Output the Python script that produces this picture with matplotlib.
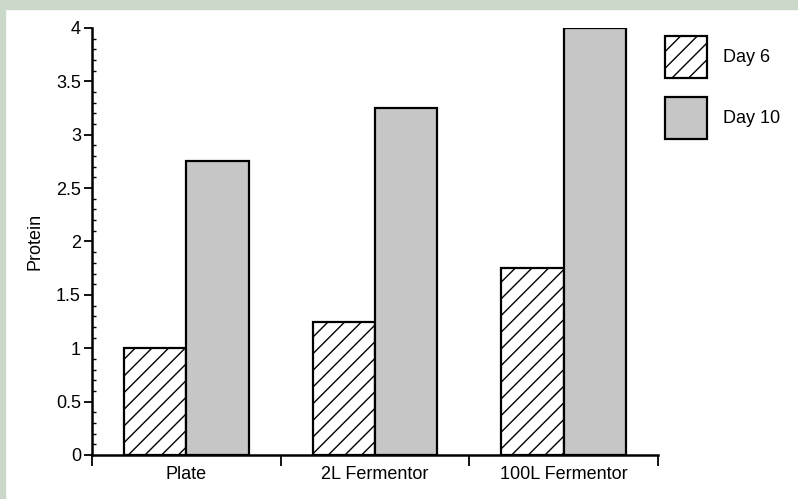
import numpy as np
import matplotlib.pyplot as plt
from matplotlib.patches import Rectangle
from matplotlib.ticker import MultipleLocator

plt.rcParams['font.family'] = ['Liberation Sans', 'DejaVu Sans']

categories = ["Plate", "2L Fermentor", "100L Fermentor"]
day6 = [1.0, 1.25, 1.75]
day10 = [2.75, 3.25, 4.0]
series_names = ["Day 6", "Day 10"]

fig = plt.figure(figsize=(7.98, 4.99), dpi=100)
# greenish frame along top and left like the scanned page
fig.patches.append(Rectangle((0, 0.982), 1, 0.018, transform=fig.transFigure,
                             color="#c9d8c8", zorder=0))
fig.patches.append(Rectangle((0, 0), 0.0065, 1, transform=fig.transFigure,
                             color="#c9d8c8", zorder=0))

ax = fig.add_axes([0.1153, 0.0882, 0.7093, 0.8557])

x = np.arange(len(categories))
w = 0.33
b1 = ax.bar(x - w / 2, day6, w, facecolor="white", edgecolor="black",
            hatch="//", linewidth=1.6, label=series_names[0])
b2 = ax.bar(x + w / 2, day10, w, facecolor="#c6c6c6", edgecolor="black",
            linewidth=1.6, label=series_names[1])

ax.set_xlim(-0.5, 2.5)
ax.set_ylim(0, 4)
ax.spines["top"].set_visible(False)
ax.spines["right"].set_visible(False)
ax.spines["left"].set_linewidth(1.8)
ax.spines["bottom"].set_linewidth(1.8)

ax.yaxis.set_major_locator(MultipleLocator(0.5))
ax.yaxis.set_minor_locator(MultipleLocator(0.1))
ax.set_yticks([0, 0.5, 1, 1.5, 2, 2.5, 3, 3.5, 4])
ax.set_yticklabels(["0", "0.5", "1", "1.5", "2", "2.5", "3", "3.5", "4"])
ax.tick_params(axis="y", which="major", direction="out", length=6, width=1.3,
               labelsize=13, pad=2)
ax.tick_params(axis="y", which="minor", direction="in", length=3, width=1.0)

# category boundary ticks on x, labels centred under groups
ax.set_xticks([-0.5, 0.5, 1.5, 2.5])
ax.set_xticklabels(["", "", "", ""])
ax.set_xticks(x, minor=True)
ax.set_xticklabels(categories, minor=True)
ax.tick_params(axis="x", which="major", direction="out", length=8, width=1.3)
ax.tick_params(axis="x", which="minor", length=0, labelsize=13, pad=8)

ax.set_ylabel("Protein", fontsize=13)
ax.yaxis.set_label_coords(-0.085, 0.5)

ax.legend(handles=[b1, b2], labels=series_names, loc="upper left",
          bbox_to_anchor=(0.8245, 0.942), bbox_transform=fig.transFigure,
          frameon=False, fontsize=13, handlelength=2.3, handleheight=3.2,
          labelspacing=1.05, handletextpad=0.9, borderaxespad=0)

fig.savefig("out.png", dpi=100)
